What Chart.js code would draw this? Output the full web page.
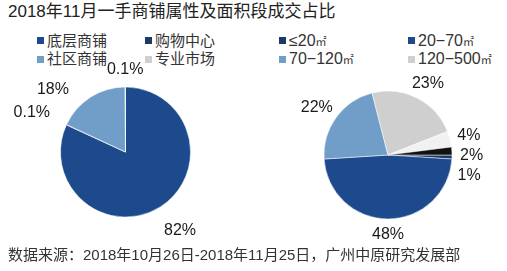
<!DOCTYPE html>
<html><head><meta charset="utf-8">
<script src="https://cdn.jsdelivr.net/npm/chart.js@4"></script>
<style>
html,body{margin:0;padding:0}
body{width:507px;height:271px;background:#fff;position:relative;overflow:hidden;font-family:"Liberation Sans","Noto Sans CJK SC",sans-serif;color:#333}
#title{position:absolute;left:8px;top:1px;font-size:17px;line-height:22px;white-space:nowrap;color:#222}
.leg{position:absolute;font-size:15px;line-height:18px;white-space:nowrap;color:#333}
.leg .u{font-size:11px}
.sw{position:absolute;width:7px;height:7px}
#foot{position:absolute;left:8px;top:246px;font-size:15px;line-height:18px;white-space:nowrap}
.box{position:absolute}
</style></head><body>
<div id="title"></div>
<div id="legends"></div>
<div class="box" style="left:0;top:52px;width:251px;height:200px"><canvas id="c1"></canvas></div>
<div class="box" style="left:276px;top:55px;width:224px;height:200px"><canvas id="c2"></canvas></div>
<div id="foot"></div>
<script>
const chartTitle = '2018年11月一手商铺属性及面积段成交占比';
const sourceNote = '数据来源：2018年10月26日-2018年11月25日，广州中原研究发展部';

const typeCategories = ['底层商铺', '购物中心', '社区商铺', '专业市场'];
const typeValues = [82, 0.1, 18, 0.1];
const typeColors = ['#1c4a8c', '#1b3a66', '#709ec8', '#cfcfcf'];

const areaCategories = ['≤20㎡', '20−70㎡', '70−120㎡', '120−500㎡', '500−1000㎡', '1000㎡以上'];
const areaValues = [1, 48, 22, 23, 4, 2];
const areaColors = ['#1b3a66', '#1c4a8c', '#709ec8', '#cfcfcf', '#f1f1f1', '#111111'];
const areaLegendCount = 4;

document.getElementById('title').textContent = chartTitle;
document.getElementById('foot').textContent = sourceNote;

function buildLegend(labels, colors, count, x0, colW, fontPx) {
  const host = document.getElementById('legends');
  for (let i = 0; i < count; i++) {
    const col = i % 2, row = Math.floor(i / 2);
    const cy = 40.5 + row * 18.5;
    const sx = x0 + col * colW;
    const sw = document.createElement('div');
    sw.className = 'sw';
    sw.style.left = sx + 'px';
    sw.style.top = (cy - 3.5) + 'px';
    sw.style.background = colors[i];
    host.appendChild(sw);
    const t = document.createElement('div');
    t.className = 'leg';
    t.style.left = (sx + 10) + 'px';
    t.style.top = (cy - 9) + 'px';
    t.style.fontSize = fontPx + 'px';
    const parts = labels[i].split('㎡');
    parts.forEach((s, k) => {
      t.appendChild(document.createTextNode(s));
      if (k < parts.length - 1) {
        const u = document.createElement('span');
        u.className = 'u';
        u.textContent = '㎡';
        t.appendChild(u);
      }
    });
    host.appendChild(t);
  }
}
buildLegend(typeCategories, typeColors, typeCategories.length, 37, 108, 15);
buildLegend(areaCategories, areaColors, areaLegendCount, 279, 129, 16);

const pieLabels = {
  id: 'pieLabels',
  afterDatasetsDraw(chart, args, opts) {
    const ctx = chart.ctx;
    ctx.save();
    ctx.font = '16px "Liberation Sans", "Noto Sans CJK SC", sans-serif';
    const meta = chart.getDatasetMeta(0);
    const vals = chart.data.datasets[0].data;
    const hh = 8;
    const items = [];
    meta.data.forEach((arc, i) => {
      const p = arc.getProps(['x', 'y', 'startAngle', 'endAngle', 'outerRadius'], true);
      const mid = (p.startAngle + p.endAngle) / 2;
      const text = vals[i] + '%';
      const hw = ctx.measureText(text).width / 2;
      const ux = Math.cos(mid), uy = Math.sin(mid);
      const a = p.outerRadius + opts.pad;
      let x = p.x + ux * a + ux * hw;
      let y = p.y + uy * a + uy * hh;
      if (y < opts.minY + hh) y = opts.minY + hh;
      items.push({ text, cx: p.x, cy: p.y, x, y, d: Math.hypot(x - p.x, y - p.y), right: ux >= 0 });
    });
    [true, false].forEach(side => {
      const grp = items.filter(it => it.right === side).sort((a, b) => a.y - b.y);
      for (let k = 1; k < grp.length; k++) {
        if (grp[k].y - grp[k - 1].y < opts.gap) {
          grp[k].y = grp[k - 1].y + opts.gap;
          const dy = grp[k].y - grp[k].cy;
          const dx = Math.sqrt(Math.max(grp[k].d * grp[k].d - dy * dy, 0));
          grp[k].x = grp[k].cx + (side ? dx : -dx);
        }
      }
    });
    ctx.fillStyle = '#1a1a1a';
    ctx.textAlign = 'center';
    ctx.textBaseline = 'middle';
    items.forEach(it => ctx.fillText(it.text, it.x, it.y));
    ctx.restore();
  }
};

function makePie(id, labels, values, colors, rotation, radius, pad, minY) {
  new Chart(document.getElementById(id), {
    type: 'pie',
    data: { labels, datasets: [{ data: values, backgroundColor: colors, borderColor: '#ffffff', borderWidth: 0.5, hoverOffset: 0 }] },
    options: {
      responsive: true, maintainAspectRatio: false, animation: false,
      rotation, radius,
      layout: { padding: 0 },
      plugins: { legend: { display: false }, tooltip: { enabled: false }, pieLabels: { pad, gap: 20, minY } }
    },
    plugins: [pieLabels]
  });
}
makePie('c1', typeCategories, typeValues, typeColors, 0, 65, 20, 10);
makePie('c2', areaCategories, areaValues, areaColors, 90, 64, 8, 10);
</script>
</body></html>
